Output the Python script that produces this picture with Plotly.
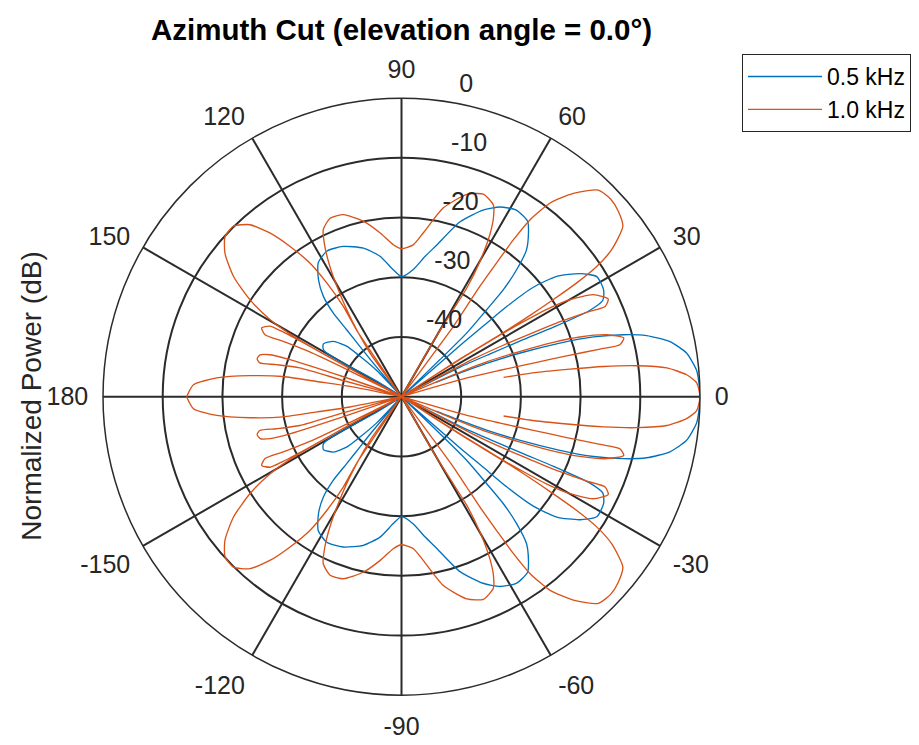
import plotly.graph_objects as go

# ---- data (upper half, 0..180 deg; pattern is symmetric about 0 deg) ----
# None marks the break after the main lobe (deep null)
blue_theta = [0, 3, 5.2, 8.7, 11.6, 14, 15.6, 17.3, 18.7, 20.2, 21.4, 22.0, 22.4, 22.8,
              23.5, 26.8, 25.8, 25.1, 24.6, 24.6, 25.6, 27.9, 31.6, 34.6, 37.8, 39.7, 40.6, 40.8, 41.2, 42.0,
              43.0, 43.9, 44.3, 45.6, 46.4, 47.8, 49.6, 52.2, 54.3, 58.4, 62.6, 66.4, 71.5, 76.9, 80.5, 84.7, 90,
              93.7, 98.7, 104.4, 111.2, 117.2, 121.9, 125.4, 127.9, 129.2, 129.3, 129.6, 130.0, 131.0,
              132.5, 133.5, 135.8, 137.4, 140.9, 145.9, 148.5, 149.4, 150.1, 149.5, 148.0, 147.0,
              160, 180]
blue_db = [0, -0.15, -0.4, -1.7, -4.1, -7.7, -11.4, -16.3, -22.0, -28.8, -34.7, -39.4, -43.7, None,
           -50, -39.0, -33.5, -27.5, -22.0, -15.5, -12.6, -11.7, -11.6, -13.7, -17.1, -21.3, -26.8, -31.9, -37.1, -50,
           -50, -41.1, -34.7, -29.6, -25.3, -21.3, -17.7, -15.3, -13.8, -13.3, -14.2, -15.9, -19.1, -23.9, -26.2, -28.6, -29.9,
           -28.7, -26.2, -24.3, -23.0, -22.6, -23.6, -26.0, -28.7, -31.9, -35.5, -39.1, -42.6, -50,
           -50, -43.9, -40.3, -37.5, -35.3, -34.2, -34.6, -35.1, -38.1, -41.2, -45.0, -50,
           -50, -50]

orange_theta = [0, 2.7, 4.4, 6.2, 7.5, 8.5, 9.3, 10.2, 10.7, 11.0,
                16.8, 16.0, 15.0, 14.3, 13.9, 13.5, 13.4, 14.8, 16.8, 18.5, 19.7, 20.9, 22.3, 22.9, 23.2,
                28.5, 27.6, 26.8, 26.0, 25.3, 24.5, 23.9, 25.3, 28.0, 29.9, 31.0, 31.6, 32.0, 32.5, 33.0,
                32.8, 32.2, 32.3, 32.6, 33.0, 33.7, 35.0, 37.6, 40.6, 43.4, 46.4, 49.8, 52.5, 54.0, 54.5, 54.6, 54.6, 54.2, 53.6, 53.0,
                60.5, 60.1, 59.4, 59.0, 59.9, 61.4, 62.8, 64.4, 68.0, 72.1, 77.5, 82.4, 85.6, 90,
                93.1, 97.5, 102.3, 107.7, 111.8, 115.1, 117.0, 118.8, 120.6, 122.2, 123.8, 125.8, 126.5,
                124.0, 122.8, 123.3, 124.4, 126.6, 128.8, 131.4, 134.6, 137.8, 140.9, 144.4, 147.4, 149.6, 150.8, 151.2, 151.5, 152.0,
                151.4, 151.2, 151.4, 151.8, 153.8, 155.6, 155.0, 154.0, 153.5, 153.0,
                160.5, 161.0, 161.6, 162.3, 163.5, 165.3, 166.6, 165.6, 164.2, 164.5, 165.0,
                168.0, 168.7, 169.8, 170.3, 172.1, 174.2, 176.7, 180]
orange_db = [0, -0.5, -2.1, -5.3, -10.3, -15.8, -21.4, -27.0, -32.6, None,
             -50, -38.6, -32.9, -27.2, -21.5, -15.8, -12.4, -11.5, -14.1, -18.5, -23.0, -28.7, -34.6, -40.6, -50,
             -50, -36.0, -30.7, -26.0, -20.6, -15.9, -12.7, -11.7, -13.6, -17.4, -21.5, -26.0, -30.0, -38.0, -50,
             -38.0, -30.0, -24.6, -19.8, -15.0, -10.7, -7.0, -3.2, -2.2, -1.8, -2.2, -5.4, -9.1, -13.4, -17.7, -22.5, -27.3, -31.3, -35.4, -50,
             -50, -39.3, -34.0, -28.8, -23.8, -19.1, -16.3, -14.4, -13.4, -14.4, -17.6, -22.3, -24.5, -25.2,
             -24.5, -22.3, -19.9, -18.0, -17.8, -19.1, -21.7, -25.1, -29.2, -32.8, -36.5, -41.0, -50,
             -36.5, -32.0, -27.2, -22.9, -18.6, -14.8, -11.6, -9.9, -10.1, -11.9, -15.4, -19.9, -24.5, -29.5, -35.0, -40.0, -50,
             -40.0, -32.0, -27.0, -25.0, -23.9, -24.9, -28.0, -32.8, -40.0, -50,
             -50, -40.0, -30.3, -26.9, -25.3, -25.0, -25.6, -28.4, -32.3, -40.0, -50,
             -50, -41.2, -35.6, -29.9, -24.4, -18.9, -15.1, -14.0]

series_names = ["0.5 kHz", "1.0 kHz"]
series_colors = ["#0072BD", "#D95319"]

angle_ticks = [0, 30, 60, 90, 120, 150, 180, 210, 240, 270, 300, 330]
angle_labels = ["0", "30", "60", "90", "120", "150", "180", "-150", "-120", "-90", "-60", "-30"]
r_ticks = [-40, -30, -20, -10, 0]
r_labels = ["-40", "-30", "-20", "-10", "0"]


def full_cut(theta, r):
    """Mirror the upper-half reading to get the symmetric full cut (-180..180)."""
    th = [-t for t in reversed(theta)] + theta[1:]
    rr = list(reversed(r)) + r[1:]
    return th, rr


FONT = "Liberation Sans, Arial, Helvetica, sans-serif"
GRID = "#2b2b2b"

# the page body has an 8px margin: the figure is made 8px smaller and
# target pixel positions are converted to figure (paper) coordinates.
OFF = 8
W, H = 919 - OFF, 745 - OFF


def px(X):
    return (X - OFF) / W


def py(Y):
    return 1 - (Y - OFF) / H


cx, cy, R = 401.5, 396.7, 298.5
LBL_SHIFT = 4.0                      # radial labels sit a little outside their rings
R2 = R * (50.0 + LBL_SHIFT) / 50.0

fig = go.Figure()
for name, color, th, db in [(series_names[0], series_colors[0], blue_theta, blue_db),
                            (series_names[1], series_colors[1], orange_theta, orange_db)]:
    assert len(th) == len(db)
    t, r = full_cut(th, db)
    fig.add_trace(go.Scatterpolar(theta=t, r=r, mode="lines", name=name,
                                  line=dict(color=color, width=1.35, shape="spline", smoothing=0.6),
                                  connectgaps=False, subplot="polar"))

# empty trace so the label-only polar overlay exists
fig.add_trace(go.Scatterpolar(theta=[], r=[], subplot="polar2", showlegend=False))

fig.update_layout(
    width=W, height=H,
    margin=dict(l=0, r=0, t=0, b=0, autoexpand=False),
    paper_bgcolor="white",
    font=dict(family=FONT, color="#262626", size=25),
    title=dict(text="<b>Azimuth Cut (elevation angle = 0.0°)</b>",
               x=px(cx), xanchor="center", y=py(30), yanchor="middle",
               yref="container", font=dict(size=29.5, color="black", family=FONT)),
    polar=dict(
        domain=dict(x=[px(cx - R), px(cx + R)], y=[py(cy + R), py(cy - R)]),
        bgcolor="white",
        angularaxis=dict(rotation=0, direction="counterclockwise",
                         tickmode="array", tickvals=angle_ticks, ticktext=angle_labels,
                         showline=True, linecolor=GRID, linewidth=1.5,
                         showgrid=True, gridcolor=GRID, gridwidth=1.5,
                         ticks="outside", ticklen=9, tickcolor="rgba(0,0,0,0)",
                         tickfont=dict(size=25, color="#262626", family=FONT)),
        radialaxis=dict(range=[-50, 0], tickmode="array", tickvals=r_ticks[:-1],
                        showticklabels=False, ticks="", showline=False,
                        showgrid=True, gridcolor=GRID, gridwidth=1.5),
    ),
    polar2=dict(
        domain=dict(x=[px(cx - R2), px(cx + R2)], y=[py(cy + R2), py(cy - R2)]),
        bgcolor="rgba(0,0,0,0)",
        angularaxis=dict(visible=False),
        radialaxis=dict(range=[-50 - LBL_SHIFT, 0], angle=82, side="clockwise", tickangle=82,
                        tickmode="array", tickvals=r_ticks, ticktext=r_labels,
                        showgrid=False, showline=False, ticks="",
                        tickfont=dict(size=25, color="#262626", family=FONT)),
    ),
    legend=dict(x=px(742), xanchor="left", y=py(54), yanchor="top",
                bgcolor="white", bordercolor="#262626", borderwidth=1,
                font=dict(size=23, color="black", family=FONT),
                itemwidth=74, tracegroupgap=0),
    annotations=[dict(text="Normalized Power (dB)", x=px(32), y=py(cy),
                      xref="paper", yref="paper", showarrow=False, textangle=-90,
                      xanchor="center", yanchor="middle",
                      font=dict(size=28, color="#262626", family=FONT))],
)

fig.write_html("out.html")
